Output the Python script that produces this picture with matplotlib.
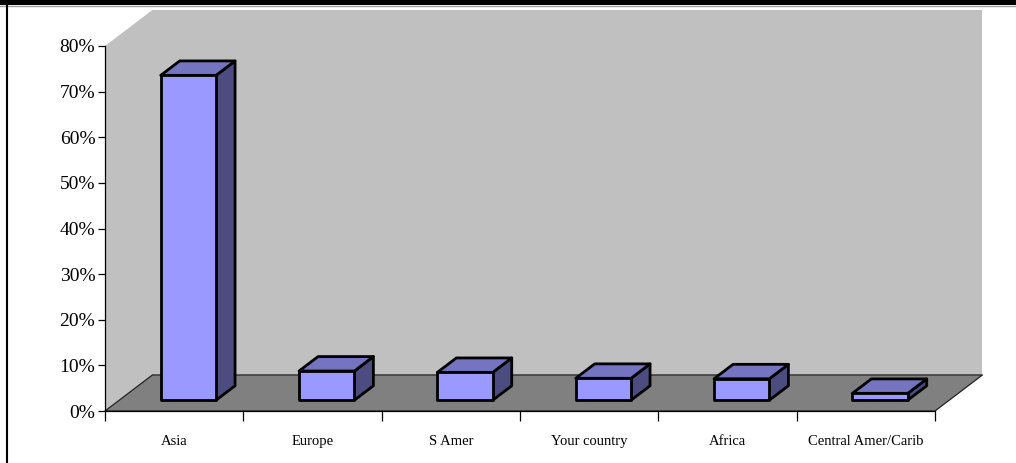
import numpy as np
import matplotlib.pyplot as plt
from matplotlib.patches import Polygon, Rectangle
from matplotlib.lines import Line2D
from matplotlib.ticker import FuncFormatter

# 各地区占比 (%)
regions = ['Asia', 'Europe', 'S Amer', 'Your country', 'Africa', 'Central Amer/Carib']
shares = [71.2, 6.4, 6.1, 4.8, 4.7, 1.5]
y_ticks = [0, 10, 20, 30, 40, 50, 60, 70, 80]

# 3D 透视偏移 (x 以类别为单位, y 以百分比为单位)
DX = 0.343
DY = 7.9
BAR_W = 0.4
Z0, Z1 = 0.3, 0.7

FRONT = '#9999ff'
TOP = '#7474c0'
SIDE = '#4c4c80'
WALL = '#c0c0c0'
FLOOR = '#808080'


def proj(x, y, z):
    """把 (x, y, 深度 z) 投影到正面坐标"""
    return (x + z * DX, y + z * DY)


def add_poly(ax, pts, fc, ec='none', lw=0, zorder=1):
    ax.add_patch(Polygon(pts, closed=True, facecolor=fc, edgecolor=ec,
                         linewidth=lw, joinstyle='round',
                         transform=ax.transData, clip_on=False, zorder=zorder))


def draw_bar(ax, xc, h):
    x0, x1 = xc - BAR_W / 2, xc + BAR_W / 2
    front = [proj(x0, 0, Z0), proj(x1, 0, Z0), proj(x1, h, Z0), proj(x0, h, Z0)]
    top = [proj(x0, h, Z0), proj(x1, h, Z0), proj(x1, h, Z1), proj(x0, h, Z1)]
    side = [proj(x1, 0, Z0), proj(x1, 0, Z1), proj(x1, h, Z1), proj(x1, h, Z0)]
    add_poly(ax, side, SIDE, 'black', 2.0, zorder=5)
    add_poly(ax, top, TOP, 'black', 2.0, zorder=5)
    add_poly(ax, front, FRONT, 'black', 2.0, zorder=6)


plt.rcParams['font.family'] = ['Liberation Serif', 'DejaVu Serif']

fig = plt.figure(figsize=(10.16, 4.63), dpi=100)
ax = fig.add_axes([105 / 1016, 52 / 463, 830 / 1016, 365 / 463])
n = len(regions)
ax.set_xlim(0, n)
ax.set_ylim(0, 80)
ax.set_facecolor('none')

# 背景墙和底面
ymax = y_ticks[-1]
add_poly(ax, [proj(0, 0, 0), proj(0, ymax, 0), proj(0, ymax, 1), proj(0, 0, 1)], WALL, zorder=1)
add_poly(ax, [proj(0, 0, 1), proj(0, ymax, 1), proj(n, ymax, 1), proj(n, 0, 1)], WALL, zorder=1)
add_poly(ax, [proj(0, 0, 0), proj(n, 0, 0), proj(n, 0, 1), proj(0, 0, 1)], FLOOR,
         ec='#222222', lw=0.9, zorder=2)

for i, v in enumerate(shares):
    draw_bar(ax, i + 0.5, v)

# 坐标轴
for s in ['top', 'right']:
    ax.spines[s].set_visible(False)
ax.spines['left'].set_linewidth(0.9)
ax.spines['bottom'].set_linewidth(0.9)
ax.spines['left'].set_zorder(3)
ax.spines['bottom'].set_zorder(3)

ax.set_yticks(y_ticks)
ax.yaxis.set_major_formatter(FuncFormatter(lambda v, p: f'{v:.0f}%'))
ax.tick_params(axis='y', direction='out', length=5, width=0.9, labelsize=14, pad=2)

ax.set_xticks(np.arange(n + 1))
ax.set_xticklabels([])
ax.set_xticks(np.arange(n) + 0.5, minor=True)
ax.set_xticklabels(regions, minor=True)
ax.tick_params(axis='x', which='major', direction='out', length=7, width=0.9)
ax.tick_params(axis='x', which='minor', length=0, labelsize=10.5, pad=17)

# 外框: 顶部黑条和左侧竖线
fig.add_artist(Rectangle((0, 1 - 5 / 463), 1, 5 / 463, transform=fig.transFigure,
                         facecolor='black', edgecolor='none'))
fig.add_artist(Line2D([0, 1], [1 - 5.5 / 463, 1 - 5.5 / 463], transform=fig.transFigure,
                      color='#a0a0a0', lw=1))
fig.add_artist(Line2D([7 / 1016, 7 / 1016], [0, 1 - 5 / 463], transform=fig.transFigure,
                      color='black', lw=1.5))

fig.savefig('out.png', dpi=100)
